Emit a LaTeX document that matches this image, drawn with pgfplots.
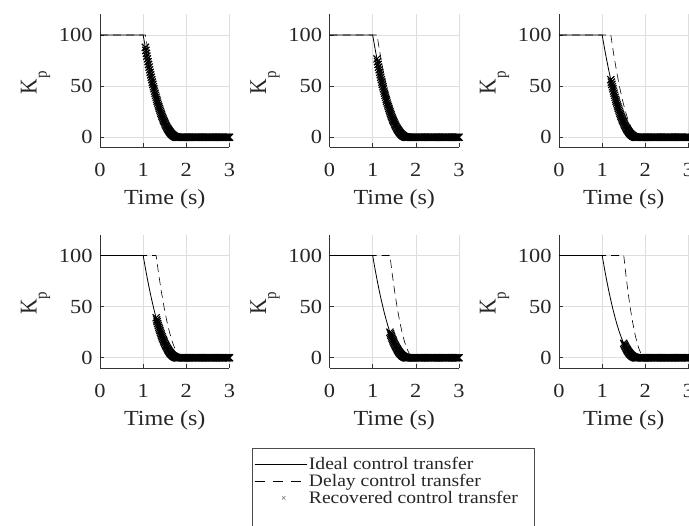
\documentclass[border=0pt]{standalone}
\usepackage{pgfplots}
\pgfplotsset{compat=1.18}
\usepackage{pgfplotstable}
\usepackage{fontspec}
\setmainfont{Liberation Serif}[FakeStretch=1.12]
\newfontfamily\plainserif{Liberation Serif}

% Ideal control transfer (line)
\pgfplotstableread{
t y
0.00 100
1.00 100
1.05 87.9
1.10 76.6
1.15 66.0
1.20 56.3
1.25 47.3
1.30 39.1
1.35 31.6
1.40 25.0
1.45 19.1
1.50 14.1
1.55 9.8
1.60 6.3
1.65 3.5
1.70 1.6
1.75 0.4
1.80 0
3.00 0
}\ideal

% Recovered control transfer samples (dense)
\pgfplotstableread{
t y
1.0000 100
1.0125 96.9
1.0250 93.8
1.0375 90.8
1.0500 87.9
1.0625 85.0
1.0750 82.1
1.0875 79.3
1.1000 76.6
1.1125 73.9
1.1250 71.2
1.1375 68.6
1.1500 66.0
1.1625 63.5
1.1750 61.0
1.1875 58.6
1.2000 56.3
1.2125 53.9
1.2250 51.7
1.2375 49.4
1.2500 47.3
1.2625 45.1
1.2750 43.1
1.2875 41.0
1.3000 39.1
1.3125 37.1
1.3250 35.3
1.3375 33.4
1.3500 31.6
1.3625 29.9
1.3750 28.2
1.3875 26.6
1.4000 25.0
1.4125 23.5
1.4250 22.0
1.4375 20.5
1.4500 19.1
1.4625 17.8
1.4750 16.5
1.4875 15.3
1.5000 14.1
1.5125 12.9
1.5250 11.8
1.5375 10.8
1.5500 9.8
1.5625 8.8
1.5750 7.9
1.5875 7.1
1.6000 6.3
1.6125 5.5
1.6250 4.8
1.6375 4.1
1.6500 3.5
1.6625 3.0
1.6750 2.4
1.6875 2.0
1.7000 1.6
1.7125 1.2
1.7250 0.9
1.7375 0.6
1.7500 0.4
1.7625 0.2
1.7750 0.1
1.7875 0.0
1.8000 0
1.825 0
1.850 0
1.875 0
1.900 0
1.925 0
1.950 0
1.975 0
2.000 0
2.025 0
2.050 0
2.075 0
2.100 0
2.125 0
2.150 0
2.175 0
2.200 0
2.225 0
2.250 0
2.275 0
2.300 0
2.325 0
2.350 0
2.375 0
2.400 0
2.425 0
2.450 0
2.475 0
2.500 0
2.525 0
2.550 0
2.575 0
2.600 0
2.625 0
2.650 0
2.675 0
2.700 0
2.725 0
2.750 0
2.775 0
2.800 0
2.825 0
2.850 0
2.875 0
2.900 0
2.925 0
2.950 0
2.975 0
3.000 0
}\recovered

\pgfplotsset{
  myax/.style={
    scale only axis, width=129.5pt, height=133pt,
    xmin=0, xmax=3, ymin=-10, ymax=120,
    xtick={0,1,2,3}, ytick={0,50,100},
    axis x line*=bottom, axis y line*=left,
    axis line style={draw=black!80, line width=0.6pt, -},
    grid=major, major grid style={draw=black!13, line width=0.6pt},
    tick style={draw=black!80, line width=0.6pt},
    major tick length=4pt, tick align=inside,
    xlabel={Time (s)},
    ylabel={\plainserif\scalebox{1}[1.12]{K\raisebox{-9pt}{\fontsize{15}{15}\selectfont p}}},
    ticklabel style={font=\fontsize{20}{20}\selectfont, text=black!85},
    label style={font=\fontsize{21.5}{21.5}\selectfont, text=black!85},
    xticklabel style={anchor=base}, xticklabel shift=29.5pt, yticklabel shift=4pt,
    xlabel style={at={(axis description cs:0.5,-0.43)}, anchor=base},
    ylabel style={at={(axis description cs:-0.498,0.488)}, anchor=center},
    clip=false,
    /pgf/number format/assume math mode=true,
    anchor=south west,
  },
  idealst/.style={black, line width=0.8pt},
  delayst/.style={black, line width=0.6pt, dash pattern=on 8pt off 5pt},
  recst/.style={only marks, mark=x, mark size=5pt, black, mark options={line width=1.2pt}},
  leglin/.style={legend image code/.code={\draw[##1] (0pt,0pt) -- (52pt,0pt);}},
  legmark/.style={legend image code/.code={\draw[##1] plot[only marks] coordinates {(29pt,0pt)};}},
}

\begin{document}
\begin{tikzpicture}
\useasboundingbox (0pt,0pt) rectangle (689pt,526pt);
\clip (0pt,0pt) rectangle (689pt,526pt);

% ---- Row 1 ----
\begin{axis}[myax, at={(100pt,378.5pt)}]
\addplot[idealst] table {\ideal};
\addplot[delayst] coordinates {(0,100)(1.05,100)(1.127,81)(1.204,64)(1.281,49)(1.358,36)(1.435,25)(1.512,16)(1.589,9)(1.666,4)(1.743,1)(1.82,0)(3,0)};
\addplot[recst, restrict x to domain=1.049:3.01] table {\recovered};
\end{axis}

\begin{axis}[myax, at={(329.5pt,378.5pt)}]
\addplot[idealst] table {\ideal};
\addplot[delayst] coordinates {(0,100)(1.1,100)(1.174,81)(1.248,64)(1.322,49)(1.396,36)(1.47,25)(1.544,16)(1.618,9)(1.692,4)(1.766,1)(1.84,0)(3,0)};
\addplot[recst, restrict x to domain=1.099:3.01] table {\recovered};
\end{axis}

\begin{axis}[myax, at={(559pt,378.5pt)}]
\addplot[idealst] table {\ideal};
\addplot[delayst] coordinates {(0,100)(1.2,100)(1.268,81)(1.336,64)(1.404,49)(1.472,36)(1.54,25)(1.608,16)(1.676,9)(1.744,4)(1.812,1)(1.88,0)(3,0)};
\addplot[recst, restrict x to domain=1.199:3.01] table {\recovered};
\end{axis}

% ---- Row 2 ----
\begin{axis}[myax, at={(100pt,158pt)}]
\addplot[idealst] table {\ideal};
\addplot[delayst] coordinates {(0,100)(1.3,100)(1.362,81)(1.424,64)(1.486,49)(1.548,36)(1.61,25)(1.672,16)(1.734,9)(1.796,4)(1.858,1)(1.92,0)(3,0)};
\addplot[recst, restrict x to domain=1.299:3.01] table {\recovered};
\end{axis}

\begin{axis}[myax, at={(329.5pt,158pt)},
  legend style={at={(axis description cs:-0.598,-0.6015)}, anchor=north west,
    draw=black!70, line width=0.6pt, fill=white,
    font=\fontsize{17.5}{17.5}\selectfont, text=black!85,
    inner xsep=2pt, inner ysep=7pt, row sep=-1pt},
  legend cell align=left]
\addplot[idealst, forget plot] table {\ideal};
\addplot[delayst, forget plot] coordinates {(0,100)(1.4,100)(1.456,81)(1.512,64)(1.568,49)(1.624,36)(1.68,25)(1.736,16)(1.792,9)(1.848,4)(1.904,1)(1.96,0)(3,0)};
\addplot[recst, forget plot, restrict x to domain=1.399:3.01] table {\recovered};
\addlegendimage{black, line width=0.6pt, leglin}
\addlegendentry{Ideal control transfer}
\addlegendimage{black, line width=0.5pt, dash pattern=on 10pt off 8pt, leglin}
\addlegendentry{Delay control transfer}
\addlegendimage{black!60, mark=x, mark size=2.5pt, line width=0.4pt, legmark}
\addlegendentry{Recovered control transfer\rule{12pt}{0pt}}
\addlegendimage{empty legend}
\addlegendentry{\rule{0pt}{16pt}}
\end{axis}

\begin{axis}[myax, at={(559pt,158pt)}]
\addplot[idealst] table {\ideal};
\addplot[delayst] coordinates {(0,100)(1.5,100)(1.55,81)(1.6,64)(1.65,49)(1.7,36)(1.75,25)(1.8,16)(1.85,9)(1.9,4)(1.95,1)(2.0,0)(3,0)};
\addplot[recst, restrict x to domain=1.499:3.01] table {\recovered};
\end{axis}

\end{tikzpicture}
\end{document}
